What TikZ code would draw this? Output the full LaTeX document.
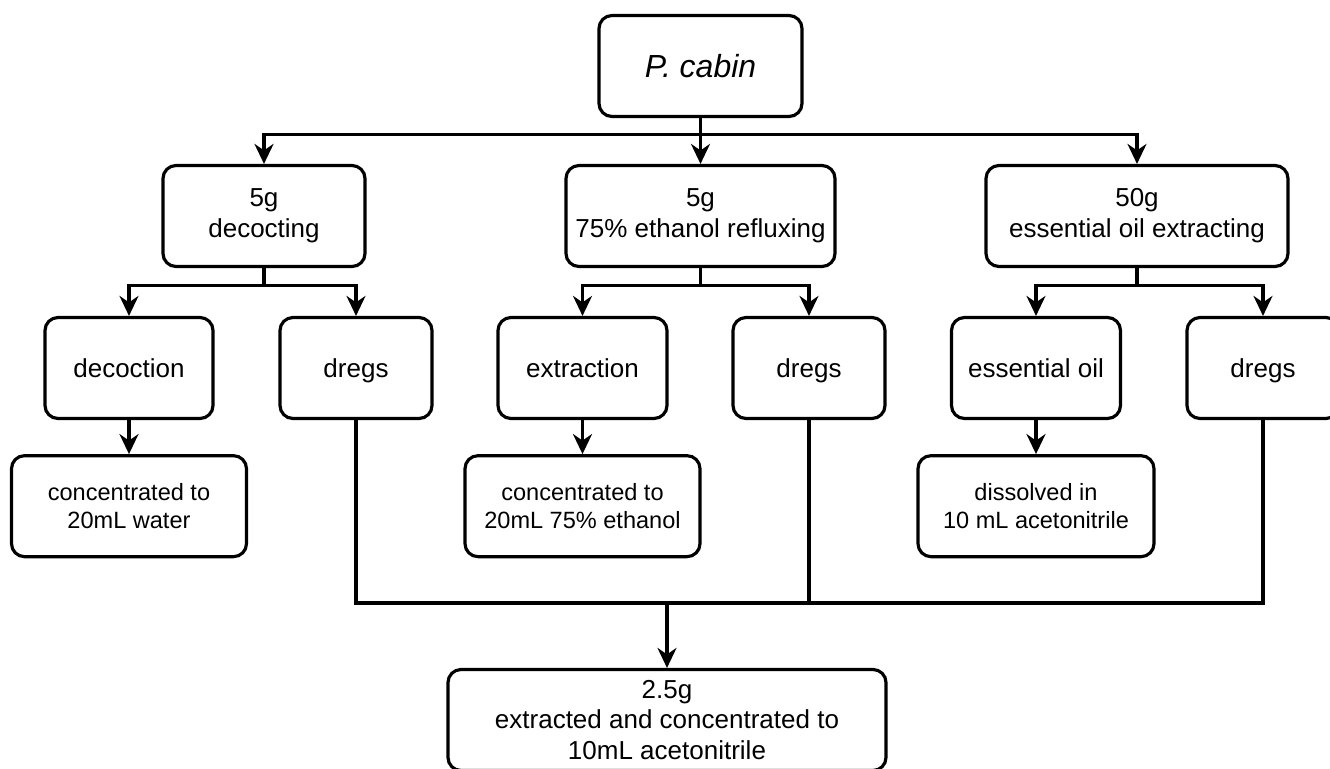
\documentclass[tikz,border=0pt]{standalone}
\usepackage{fontspec}
\setmainfont{Liberation Sans}
\usepackage{tikz}
\usetikzlibrary{arrows.meta, positioning}

\tikzset{
  box/.style={draw, rounded corners=0.26cm, line width=1.8pt, align=center,
    inner sep=0pt, minimum height=2.02cm, font=\fontsize{14.8}{17.6}\selectfont},
  onebox/.style={box, text depth=0pt},
  smallbox/.style={box, font=\fontsize{13.4}{15.9}\selectfont},
  arr/.style={line width=1.8pt, -{Stealth[length=0.4cm, width=0.38cm, inset=0.13cm]}},
  line/.style={line width=1.8pt}
}

\begin{document}
\begin{tikzpicture}
\useasboundingbox (0,0) rectangle (26.6,-15.38);
% the plant on top
\node[onebox, minimum width=4.06cm, font=\fontsize{18.2}{21}\selectfont\itshape] (plant) at (14.01,-1.32) {P. cabin};
% the three ways of treating it
\node[box, minimum width=4.04cm] (cook) at (5.28,-4.32) {5g\\decocting};
\node[box, minimum width=5.38cm] (reflux) at (14.01,-4.32) {5g\\75\% ethanol refluxing};
\node[box, minimum width=6.04cm] (oilex) at (22.74,-4.32) {50g\\essential oil extracting};
% what comes out of each
\node[onebox, minimum width=3.36cm] (decoction) at (2.58,-7.36) {decoction};
\node[onebox, minimum width=3.04cm] (dregsA) at (7.12,-7.36) {dregs};
\node[onebox, minimum width=3.38cm] (extract) at (11.65,-7.36) {extraction};
\node[onebox, minimum width=3.04cm] (dregsB) at (16.18,-7.36) {dregs};
\node[onebox, minimum width=3.38cm] (oil) at (20.72,-7.36) {essential oil};
\node[onebox, minimum width=3.04cm] (dregsC) at (25.26,-7.36) {dregs};
% the samples
\node[smallbox, minimum width=4.7cm, below=0.68cm of decoction] (concA) {concentrated to\\20mL water};
\node[smallbox, minimum width=4.7cm, below=0.68cm of extract] (concB) {concentrated to\\20mL 75\% ethanol};
\node[smallbox, minimum width=4.72cm, below=0.68cm of oil] (solv) {dissolved in\\10 mL acetonitrile};
% the dregs all end here
\node[box, minimum width=8.76cm] (final) at (13.34,-14.40) {2.5g\\extracted and concentrated to\\10mL acetonitrile};
\coordinate (merge) at (13.34,-12.06);
%
% we draw the arrows from the plant
\draw[arr] (plant.south) -- ++(0,-0.32) -| (cook.north);
\draw[arr] (plant.south) -- (reflux.north);
\draw[arr] (plant.south) -- ++(0,-0.32) -| (oilex.north);
% we split every branch in two
\foreach \from/\one/\two in {cook/decoction/dregsA, reflux/extract/dregsB, oilex/oil/dregsC}
{
  \draw[arr] (\from.south) -- ++(0,-0.34) -| (\one.north);
  \draw[arr] (\from.south) -- ++(0,-0.34) -| (\two.north);
}
\draw[arr] (decoction) -- (concA);
\draw[arr] (extract) -- (concB);
\draw[arr] (oil) -- (solv);
% we collect the dregs
\draw[line] (dregsA.south) |- (merge) -| (dregsC.south);
\draw[line] (dregsB.south) -- (dregsB.south |- merge);
\draw[arr] (merge) -- (final.north);
%
\end{tikzpicture}
\end{document}
